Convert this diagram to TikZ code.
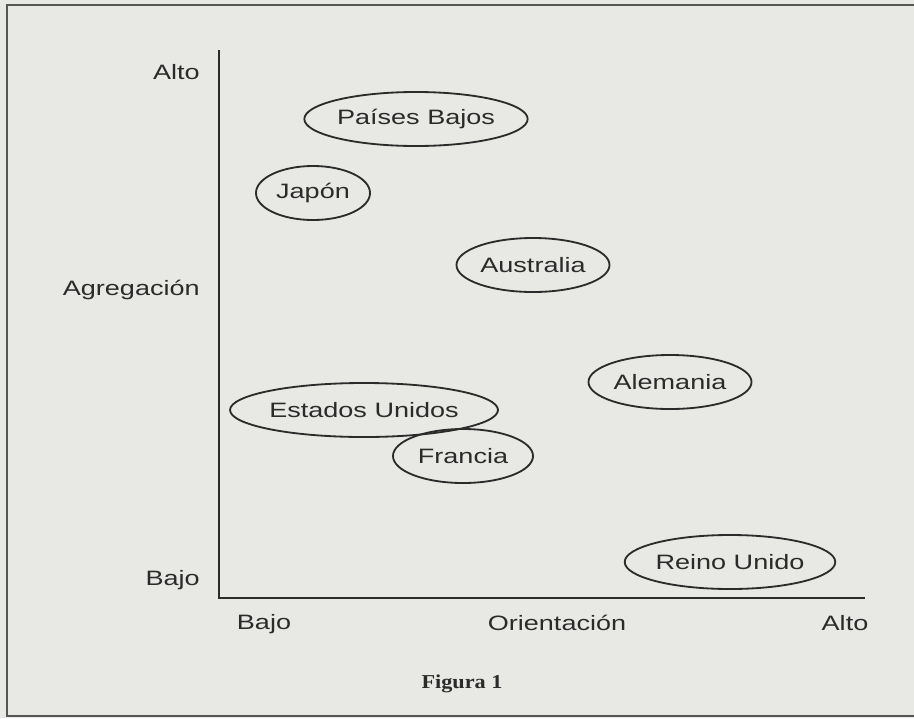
\documentclass[tikz,border=0pt]{standalone}
\usepackage{fontspec}
\usepackage{tikz}
\usetikzlibrary{shapes.geometric}
\newfontfamily\lab[FakeStretch=1.3]{Liberation Sans}
\newfontfamily\capfont[FakeStretch=1.13]{Liberation Serif}
\definecolor{pgray}{HTML}{E8E8E5}
\definecolor{ink}{HTML}{2B2B2B}
\definecolor{frm}{HTML}{555555}

\begin{document}
\begin{tikzpicture}[x=0.025cm, y=-0.025cm]
    \tikzset{cty/.style={
      ellipse,
      draw=ink,
      line width=1.3pt,
      minimum height=1.35cm,
      inner sep=0pt,
      text=ink,
      align=center},
      lbl/.style={text=ink, inner sep=0pt},
      every node/.append style={font=\lab\fontsize{14.8}{17}\selectfont}}
    \fill[pgray] (0, 0) rectangle (914, 718);
    \useasboundingbox (0, 0) rectangle (914, 718);
    \draw[frm, line width=2pt] (916, 5) -| (7, 716) -- (916, 716);
    \coordinate (ytop) at (219, 50);
    \coordinate (orig) at (219, 598);
    \coordinate (xend) at (865, 598);
    \draw[ink, line width=2.1pt] (ytop) -- (orig) -- (xend);
    \node[lbl, anchor=base east] at (200, 79) (alto) {Alto};
    \node[lbl, anchor=base east] at (200, 295) (agr) {Agregación};
    \node[lbl, anchor=base east] at (200, 585) (bajo) {Bajo};
    \node[lbl, anchor=base] at (264, 629) (bajox) {Bajo};
    \node[lbl, anchor=base] at (557, 630) (ori) {Orientación};
    \node[lbl, anchor=base] at (845, 630) (altox) {Alto};
    \node[cty, minimum width=4.7cm] at (416, 119) (pb) {Países Bajos};
    \node[cty, minimum width=2.85cm] at (313, 193) (jp) {Japón};
    \node[cty, minimum width=3.825cm] at (533, 265) (au) {Australia};
    \node[cty, minimum width=4.075cm] at (670, 382) (al) {Alemania};
    \node[cty, minimum width=5.275cm] at (364, 410) (eu) {Estados Unidos};
    \node[cty, minimum width=3.5cm] at (463, 456) (fr) {Francia};
    \node[cty, minimum width=4.625cm] at (730, 562) (ru) {Reino Unido};
    \node[lbl, anchor=base, font=\capfont\bfseries\fontsize{14}{16}\selectfont] at (462, 688) (fig) {Figura 1};
  \end{tikzpicture}
\end{document}
